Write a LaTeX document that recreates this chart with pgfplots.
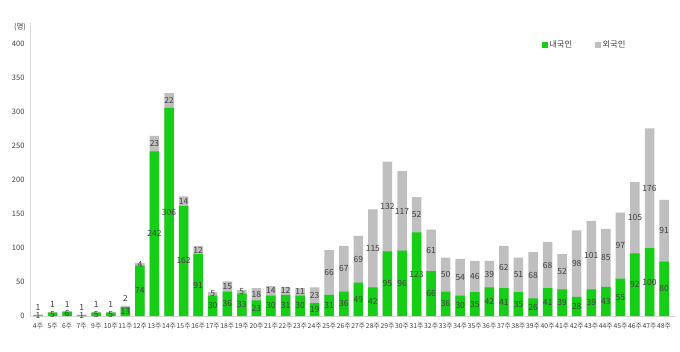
\documentclass[border=0pt]{standalone}
\usepackage{fontspec}
\setmainfont{Noto Sans CJK KR}
\usepackage{pgfplots}
\pgfplotsset{compat=1.18}
\usepackage{pgfplotstable}
\definecolor{kgreen}{RGB}{22,206,22}
\definecolor{fgray}{RGB}{191,191,191}
\definecolor{lbl}{RGB}{64,64,64}
\definecolor{axln}{RGB}{217,217,217}
% d = 내국인, f = 외국인, fp = label position of f (0 = centred in its segment)
\pgfplotstableread{
i lab d f fp
0 4주 1 1 12
1 5주 5 1 17.5
2 6주 6 1 17.5
3 7주 1 1 12
4 9주 5 1 17.5
5 10주 5 1 17.5
6 11주 13 2 26.5
7 12주 74 4 0
8 13주 242 23 0
9 14주 306 22 0
10 15주 162 14 0
11 16주 91 12 0
12 17주 30 5 0
13 18주 36 15 0
14 19주 33 5 0
15 20주 23 18 0
16 21주 30 14 0
17 22주 31 12 0
18 23주 30 11 0
19 24주 19 23 0
20 25주 31 66 0
21 26주 36 67 0
22 27주 49 69 0
23 28주 42 115 0
24 29주 95 132 0
25 30주 96 117 0
26 31주 123 52 0
27 32주 66 61 0
28 33주 36 50 0
29 34주 30 54 0
30 35주 35 46 0
31 36주 42 39 0
32 37주 41 62 0
33 38주 35 51 0
34 39주 26 68 0
35 40주 41 68 0
36 41주 39 52 0
37 42주 28 98 0
38 43주 39 101 0
39 44주 43 85 0
40 45주 55 97 0
41 46주 92 105 0
42 47주 100 176 0
43 48주 80 91 0
}\data
\begin{document}
\begin{tikzpicture}
\useasboundingbox (-30pt,-35pt) rectangle (650pt,316pt);
\begin{axis}[
  scale only axis, width=645pt, height=293pt,
  xmin=-0.55, xmax=43.75, ymin=0, ymax=431,
  ybar, bar width=9.5pt,
  axis x line*=bottom, axis y line*=left,
  axis line style={draw=axln, line width=0.8pt},
  major tick length=0pt,
  ytick={0,50,...,400},
  xtick={0,1,...,43},
  xticklabels from table={\data}{lab},
  /pgf/number format/assume math mode=true,
  yticklabel style={font=\fontsize{7.5}{9}\selectfont, text=lbl, xshift=-2pt},
  xticklabel style={font=\fontsize{6.8}{8}\selectfont, text=lbl, inner sep=1pt, yshift=-6.5pt},
  legend style={at={(0.86,0.925)}, anchor=center, draw=none, fill=none,
    font=\fontsize{8.3}{9}\selectfont, text=lbl, legend columns=2,
    /tikz/every even column/.append style={column sep=21pt},
    inner sep=0pt},
  legend cell align=left,
  clip=false,
]
\addplot[fill=fgray, draw=none, bar shift=0pt, forget plot] table[x=i, y expr=\thisrow{d}+\thisrow{f}] {\data};
\addplot[fill=kgreen, draw=none, bar shift=0pt, forget plot] table[x=i, y=d] {\data};
\addplot[draw=none, fill=none, bar shift=0pt, forget plot, nodes near coords, point meta=explicit symbolic,
  every node near coord/.append style={anchor=center, font=\fontsize{8.5}{9}\selectfont, text=lbl, inner sep=0pt}]
  table[x=i, y expr=\thisrow{d}/2, meta=d] {\data};
\addplot[draw=none, fill=none, bar shift=0pt, forget plot, nodes near coords, point meta=explicit symbolic,
  every node near coord/.append style={anchor=center, font=\fontsize{8.5}{9}\selectfont, text=lbl, inner sep=0pt}]
  table[x=i, y expr={\thisrow{fp}>0 ? \thisrow{fp} : \thisrow{d}+\thisrow{f}/2}, meta=f] {\data};
\addlegendimage{legend image code/.code={\fill[kgreen] (0pt,-2.5pt) rectangle (5pt,2.5pt);}}
\addlegendentry{내국인}
\addlegendimage{legend image code/.code={\fill[fgray] (0pt,-2.5pt) rectangle (5pt,2.5pt);}}
\addlegendentry{외국인}
\node[font=\fontsize{7.5}{9}\selectfont, text=lbl] at (rel axis cs:-0.0155,0.986) {(명)};
\end{axis}
\end{tikzpicture}
\end{document}
